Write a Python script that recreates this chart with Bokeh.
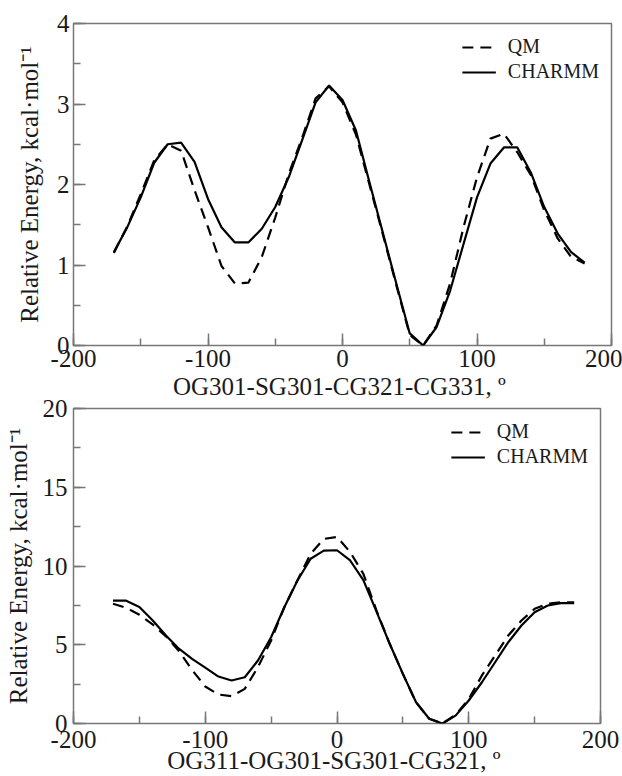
from bokeh.plotting import figure
from bokeh.layouts import column
from bokeh.models import Range1d, SingleIntervalTicker, Legend, LegendItem, PrintfTickFormatter
from bokeh.embed import file_html
from bokeh.resources import INLINE

# ---------------- data ----------------
angle_top = [-170, -160, -150, -140, -130, -120, -110, -100, -90, -80, -70, -60,
             -50, -40, -30, -20, -10, 0, 10, 20, 30, 40, 50, 60,
             70, 80, 90, 100, 110, 120, 130, 140, 150, 160, 170, 180]
qm_top = [1.15, 1.48, 1.88, 2.30, 2.50, 2.42, 1.93, 1.47, 0.99, 0.77, 0.78, 1.10,
          1.59, 2.13, 2.58, 3.07, 3.22, 3.02, 2.62, 2.00, 1.38, 0.75, 0.13, 0.00,
          0.25, 0.77, 1.47, 2.09, 2.57, 2.63, 2.40, 2.12, 1.68, 1.33, 1.10, 1.02]
charmm_top = [1.16, 1.47, 1.84, 2.27, 2.50, 2.52, 2.28, 1.82, 1.47, 1.28, 1.28, 1.45,
              1.72, 2.09, 2.55, 3.02, 3.23, 3.05, 2.67, 2.03, 1.40, 0.77, 0.15, 0.00,
              0.23, 0.68, 1.26, 1.84, 2.26, 2.46, 2.46, 2.15, 1.72, 1.39, 1.16, 1.03]

angle_bot = [-170, -160, -150, -140, -130, -120, -110, -100, -90, -80, -70, -60,
             -50, -40, -30, -20, -10, 0, 10, 20, 30, 40, 50, 60,
             70, 80, 90, 100, 110, 120, 130, 140, 150, 160, 170, 180]
qm_bot = [7.60, 7.35, 6.90, 6.30, 5.55, 4.60, 3.40, 2.35, 1.84, 1.74, 2.20, 3.58,
          5.27, 7.38, 9.10, 10.77, 11.72, 11.85, 10.88, 9.50, 7.17, 5.06, 3.15, 1.35,
          0.30, 0.00, 0.55, 1.55, 3.05, 4.32, 5.59, 6.54, 7.28, 7.60, 7.70, 7.70]
charmm_bot = [7.80, 7.80, 7.40, 6.55, 5.60, 4.75, 4.10, 3.55, 2.98, 2.73, 2.94, 4.00,
              5.48, 7.38, 9.08, 10.46, 10.98, 11.00, 10.35, 9.10, 7.10, 5.06, 3.15, 1.35,
              0.30, 0.00, 0.50, 1.46, 2.62, 3.89, 5.16, 6.22, 7.07, 7.49, 7.64, 7.64]

xlabel_top = "OG301-SG301-CG321-CG331,  º"
xlabel_bot = "OG311-OG301-SG301-CG321,  º"
ylabel = "Relative Energy, kcal·mol⁻¹"
series_names = ["QM", "CHARMM"]

FONT = "Liberation Serif"
FRAME = "#777777"
TEXT = "#1a1a1a"


def make(xs, qm, ch, ymax, ystep, xlabel, fw, fh, bl, bt, bb, br,
         xlab_std, xtitle_std, ylab_std, ytitle_std):
    p = figure(width=bl + fw + br, height=bt + fh + bb,
               frame_width=fw, frame_height=fh,
               min_border_left=bl, min_border_top=bt, min_border_bottom=bb, min_border_right=br,
               x_range=Range1d(-200, 200), y_range=Range1d(0, ymax),
               output_backend="svg", toolbar_location=None)
    p.xaxis.ticker = SingleIntervalTicker(interval=100, num_minor_ticks=2)
    p.yaxis.ticker = SingleIntervalTicker(interval=ystep, num_minor_ticks=2)
    p.xaxis.formatter = PrintfTickFormatter(format="%d")
    p.yaxis.formatter = PrintfTickFormatter(format="%d")
    p.xgrid.visible = False
    p.ygrid.visible = False
    p.outline_line_color = FRAME
    p.outline_line_width = 1.5
    p.background_fill_color = "white"
    for ax in (p.xaxis[0], p.yaxis[0]):
        ax.axis_line_color = None
        ax.major_tick_in = 12
        ax.major_tick_out = 0
        ax.minor_tick_in = 7
        ax.minor_tick_out = 0
        ax.major_tick_line_color = FRAME
        ax.minor_tick_line_color = FRAME
        ax.major_tick_line_width = 1.5
        ax.minor_tick_line_width = 1.5
        ax.major_label_text_font = FONT
        ax.major_label_text_font_size = "25px"
        ax.major_label_text_color = TEXT
        ax.axis_label_text_font = FONT
        ax.axis_label_text_font_size = "25px"
        ax.axis_label_text_font_style = "normal"
        ax.axis_label_text_color = TEXT
    p.xaxis.axis_label = xlabel
    p.yaxis.axis_label = ylabel
    p.xaxis.major_label_standoff = xlab_std
    p.xaxis.axis_label_standoff = xtitle_std
    p.yaxis.major_label_standoff = ylab_std
    p.yaxis.axis_label_standoff = ytitle_std

    r_qm = p.line(xs, qm, line_color="black", line_width=2.2, line_dash="11 7")
    r_ch = p.line(xs, ch, line_color="black", line_width=2.2)
    leg = Legend(items=[LegendItem(label=series_names[0], renderers=[r_qm]),
                        LegendItem(label=series_names[1], renderers=[r_ch])],
                 location="top_right")
    leg.border_line_color = None
    leg.background_fill_alpha = 0
    leg.label_text_font = FONT
    leg.label_text_font_size = "20px"
    leg.label_text_color = TEXT
    leg.glyph_width = 34
    leg.label_standoff = 12
    leg.spacing = 2
    leg.padding = 5
    leg.margin = 12
    p.add_layout(leg)
    return p


p1 = make(angle_top, qm_top, charmm_top, 4, 1, xlabel_top,
          fw=538, fh=322, bl=62, bt=23, bb=58, br=22,
          xlab_std=4, xtitle_std=3, ylab_std=4, ytitle_std=11)
p2 = make(angle_bot, qm_bot, charmm_bot, 20, 5, xlabel_bot,
          fw=527, fh=315, bl=73, bt=20, bb=50, br=22,
          xlab_std=7, xtitle_std=-4, ylab_std=6, ytitle_std=8)
# let the lower panel's empty top border overlap the upper panel's bottom border
p2.margin = (-15, 0, 0, 0)
p2.border_fill_alpha = 0

layout = column(p1, p2, spacing=0)
open("out.html", "w").write(file_html(layout, INLINE))
